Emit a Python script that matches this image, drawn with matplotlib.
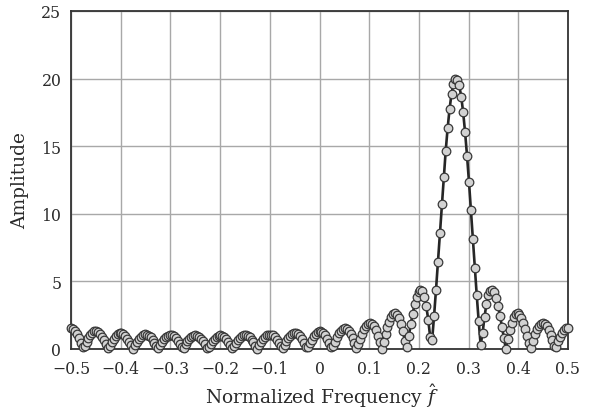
import numpy as np
import matplotlib
matplotlib.use("Agg")
import matplotlib.pyplot as plt

# Normalized frequency samples (257 uniformly spaced samples from -0.5 to 0.5)
freq = np.linspace(-0.5, 0.5, 257)

# Amplitude values
amplitude = [
    1.54, 1.47, 1.32, 1.09, 0.81, 0.48, 0.14, 0.21, 0.53, 0.82,
    1.05, 1.21, 1.30, 1.31, 1.24, 1.10, 0.90, 0.65, 0.36, 0.06,
    0.24, 0.52, 0.77, 0.96, 1.10, 1.17, 1.16, 1.09, 0.96, 0.77,
    0.54, 0.27, 0.00, 0.27, 0.52, 0.74, 0.91, 1.03, 1.08, 1.07,
    0.99, 0.86, 0.67, 0.45, 0.21, 0.05, 0.30, 0.54, 0.73, 0.89,
    0.99, 1.03, 1.01, 0.93, 0.79, 0.61, 0.39, 0.15, 0.10, 0.34,
    0.56, 0.75, 0.89, 0.97, 1.00, 0.97, 0.88, 0.74, 0.56, 0.34,
    0.10, 0.15, 0.38, 0.60, 0.77, 0.91, 0.98, 1.00, 0.96, 0.86,
    0.71, 0.52, 0.29, 0.05, 0.20, 0.43, 0.65, 0.82, 0.95, 1.02,
    1.02, 0.97, 0.86, 0.70, 0.49, 0.25, 0.00, 0.26, 0.50, 0.72,
    0.89, 1.01, 1.07, 1.07, 1.01, 0.88, 0.70, 0.47, 0.22, 0.06,
    0.33, 0.59, 0.81, 0.99, 1.11, 1.17, 1.16, 1.08, 0.93, 0.72,
    0.47, 0.18, 0.12, 0.42, 0.70, 0.95, 1.14, 1.26, 1.32, 1.29,
    1.19, 1.01, 0.76, 0.47, 0.14, 0.21, 0.55, 0.87, 1.15, 1.36,
    1.49, 1.54, 1.50, 1.36, 1.14, 0.84, 0.48, 0.08, 0.34, 0.75,
    1.13, 1.46, 1.71, 1.87, 1.92, 1.85, 1.67, 1.38, 0.99, 0.52,
    0.00, 0.55, 1.09, 1.60, 2.03, 2.36, 2.57, 2.63, 2.53, 2.28,
    1.86, 1.30, 0.61, 0.16, 0.98, 1.82, 2.61, 3.30, 3.86, 4.24,
    4.38, 4.27, 3.87, 3.17, 2.18, 0.90, 0.65, 2.42, 4.36, 6.44,
    8.57, 10.69, 12.74, 14.65, 16.34, 17.76, 18.87, 19.61, 19.97, 19.92,
    19.49, 18.67, 17.50, 16.02, 14.28, 12.35, 10.28, 8.14, 6.02, 3.96,
    2.05, 0.32, 1.17, 2.40, 3.33, 3.97, 4.31, 4.37, 4.18, 3.76,
    3.17, 2.45, 1.65, 0.82, 0.00, 0.76, 1.42, 1.95, 2.34, 2.57,
    2.63, 2.54, 2.31, 1.95, 1.50, 0.98, 0.44, 0.11, 0.62, 1.08,
    1.45, 1.72, 1.88, 1.92, 1.85, 1.67, 1.40, 1.06, 0.67, 0.25,
    0.17, 0.56, 0.91, 1.19, 1.40, 1.52, 1.54,
]

xticks = [-0.5, -0.4, -0.3, -0.2, -0.1, 0, 0.1, 0.2, 0.3, 0.4, 0.5]
xticklabels = ["\u22120.5", "\u22120.4", "\u22120.3", "\u22120.2", "\u22120.1",
               "0", "0.1", "0.2", "0.3", "0.4", "0.5"]
yticks = [0, 5, 10, 15, 20, 25]

plt.rcParams["font.family"] = ["DejaVu Serif"]
plt.rcParams["mathtext.fontset"] = "dejavuserif"

fig = plt.figure(figsize=(5.89, 4.14), dpi=100)
ax = fig.add_axes([71 / 589, 1 - 350 / 414, (568 - 71) / 589, (350 - 12) / 414])

ax.plot(freq, amplitude, color="#262626", linewidth=1.9, marker="o",
        markersize=6.2, markerfacecolor="#d2d2d2", markeredgecolor="#383838",
        markeredgewidth=0.9, clip_on=False, zorder=3)

ax.set_xlim(-0.5, 0.5)
ax.set_ylim(0, 25)
ax.set_xticks(xticks)
ax.set_xticklabels(xticklabels)
ax.set_yticks(yticks)
ax.grid(True, color="#a8a8a8", linewidth=1.0)
ax.set_axisbelow(True)
for s in ax.spines.values():
    s.set_color("#333333")
    s.set_linewidth(1.3)
ax.tick_params(length=0, labelsize=11.3, labelcolor="#2a2a2a")
ax.tick_params(axis="x", pad=8)
ax.tick_params(axis="y", pad=7)

ax.set_xlabel(r"Normalized Frequency $\hat{f}$", fontsize=13.4, color="#2a2a2a")
ax.set_ylabel("Amplitude", fontsize=13.4, color="#2a2a2a")
ax.xaxis.set_label_coords(322 / 589, 1 - 396 / 414, transform=fig.transFigure)
ax.yaxis.set_label_coords(20 / 589, 1 - 181 / 414, transform=fig.transFigure)
ax.xaxis.label.set_verticalalignment("center")
ax.yaxis.label.set_verticalalignment("center")

fig.savefig("out.png", dpi=100)
